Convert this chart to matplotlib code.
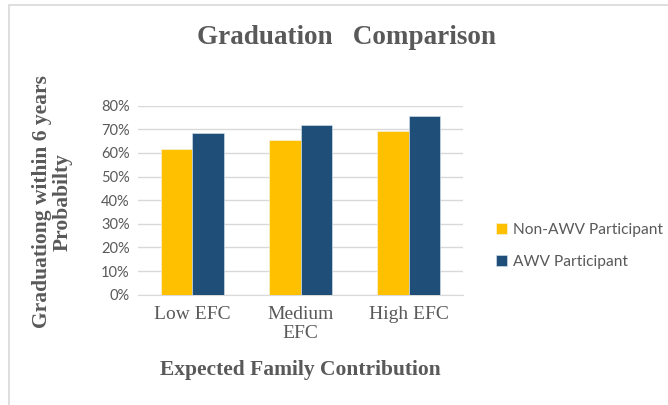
import numpy as np
import matplotlib.pyplot as plt
from matplotlib.patches import Rectangle

categories = ['Low EFC', 'Medium\nEFC', 'High EFC']
non_awv = [0.615, 0.655, 0.695]
awv = [0.683, 0.718, 0.755]
series_names = ['Non-AWV Participant', 'AWV Participant']
colors = ['#FFC000', '#1F4E79']
yticks = [0, 0.1, 0.2, 0.3, 0.4, 0.5, 0.6, 0.7, 0.8]

gray = '#595959'
serif = 'Liberation Serif'

fig = plt.figure(figsize=(6.68, 4.05), dpi=100)
fig.patches.append(Rectangle((9 / 668, -0.1), 1.2, (405 - 5) / 405 + 0.1,
                             transform=fig.transFigure, fill=False,
                             edgecolor='#D9D9D9', linewidth=1.2))

ax = fig.add_axes([138 / 668, 1 - 294.7 / 405, 325 / 668, (294.7 - 105.7) / 405])
x = np.arange(len(categories))
w = 0.29
ax.bar(x - w / 2, non_awv, w, color=colors[0], label=series_names[0],
       edgecolor='#F5F5F5', linewidth=0.4, zorder=3)
ax.bar(x + w / 2, awv, w, color=colors[1], label=series_names[1],
       edgecolor='#DDE8F0', linewidth=0.4, zorder=3)

ax.set_xlim(-0.5, 2.5)
ax.set_ylim(0, 0.8)
ax.set_yticks(yticks)
ax.set_yticklabels(['%d%%' % round(v * 100) for v in yticks],
                   fontsize=10.5, color=gray, family='Lato')
ax.set_xticks(x)
ax.set_xticklabels(categories, fontsize=14, color=gray, family=serif,
                   linespacing=1.15)
ax.tick_params(length=0, pad=6)
ax.tick_params(axis='x', pad=8)
ax.grid(axis='y', color='#D9D9D9', linewidth=1, zorder=0)
for s in ['top', 'right', 'left']:
    ax.spines[s].set_visible(False)
ax.spines['bottom'].set_color('#D9D9D9')

fig.text(346 / 668, 1 - 37 / 405, 'Graduation   Comparison', ha='center',
         va='center', fontsize=19.5, fontweight='bold', color=gray, family=serif)
fig.text(300 / 668, 1 - 370 / 405, 'Expected Family Contribution', ha='center',
         va='center', fontsize=15.5, fontweight='bold', color=gray, family=serif)
fig.text(52 / 668, 1 - 202 / 405, 'Graduationg within 6 years\nProbabilty',
         ha='center', va='center', rotation=90, fontsize=15.5,
         fontweight='bold', color=gray, family=serif, linespacing=1.05)

ax.legend(loc='center left', bbox_to_anchor=(482 / 668, 1 - 246 / 405),
          bbox_transform=fig.transFigure, frameon=False,
          labelcolor=gray, prop={'family': 'Lato', 'size': 11.2},
          handlelength=0.7, handleheight=0.7, handletextpad=0.4,
          labelspacing=1.2)

fig.savefig('out.png', dpi=100)
